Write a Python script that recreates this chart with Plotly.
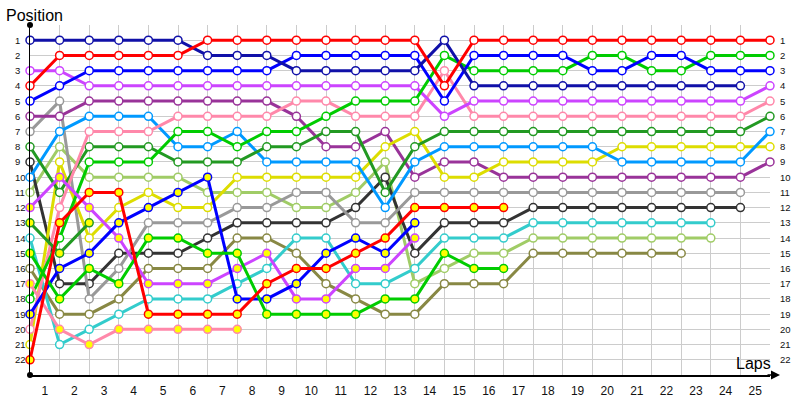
import plotly.graph_objects as go

# ---------------- data ----------------
lap_labels = [str(i) for i in range(1, 26)]
position_labels = [str(i) for i in range(1, 23)]

# positions per lap, starting at lap 0 (grid)
red_a = [4, 2, 2, 2, 2, 2, 1, 1, 1, 1, 1, 1, 1, 1, 4, 1, 1, 1, 1, 1, 1, 1, 1, 1, 1, 1]
navy_a = [1, 1, 1, 1, 1, 1, 2, 2, 2, 3, 3, 3, 3, 3, 1, 4, 4, 4, 4, 4, 4, 4, 4, 4, 4]
blue_a = [5, 4, 3, 3, 3, 3, 3, 3, 3, 2, 2, 2, 2, 2, 5, 2, 2, 2, 2, 3, 3, 2, 2, 3, 3, 3]
green_a = [18, 14, 9, 9, 9, 7, 7, 8, 7, 7, 6, 5, 5, 5, 2, 3, 3, 3, 3, 2, 2, 3, 3, 2, 2, 2]
magenta_a = [3, 3, 4, 4, 4, 4, 4, 4, 4, 4, 4, 4, 4, 4, 6, 5, 5, 5, 5, 5, 5, 5, 5, 5, 5, 4]
pink_a = [20, 12, 7, 7, 7, 6, 6, 6, 6, 5, 5, 6, 6, 6, 3, 6, 6, 6, 6, 6, 6, 6, 6, 6, 6, 5]
dgreen_a = [8, 11, 8, 8, 8, 9, 9, 9, 8, 8, 7, 7, 11, 8, 7, 7, 7, 7, 7, 7, 7, 7, 7, 7, 7, 6]
lblue_a = [10, 7, 6, 6, 6, 8, 8, 7, 9, 9, 9, 9, 12, 9, 8, 8, 8, 8, 8, 8, 9, 9, 9, 9, 9, 7]
yellow_a = [21, 9, 14, 12, 11, 12, 12, 10, 10, 10, 10, 10, 8, 7, 10, 10, 9, 9, 9, 9, 8, 8, 8, 8, 8, 8]
purple_a = [6, 6, 5, 5, 5, 5, 5, 5, 5, 6, 8, 8, 7, 10, 9, 9, 10, 10, 10, 10, 10, 10, 10, 10, 10, 9]
gray_a = [7, 5, 18, 16, 13, 13, 13, 12, 12, 11, 11, 13, 13, 11, 11, 11, 11, 11, 11, 11, 11, 11, 11, 11, 11]
black_a = [9, 17, 17, 15, 15, 15, 14, 13, 13, 13, 13, 12, 10, 15, 13, 13, 13, 12, 12, 12, 12, 12, 12, 12, 12]
teal_a = [14, 21, 20, 19, 18, 18, 18, 17, 16, 14, 14, 17, 17, 16, 14, 14, 14, 13, 13, 13, 13, 13, 13, 13]
lgreen_a = [11, 8, 10, 10, 10, 10, 11, 11, 11, 12, 12, 11, 9, 17, 16, 15, 15, 14, 14, 14, 14, 14, 14, 14]
olive_a = [16, 19, 19, 18, 16, 16, 16, 14, 14, 15, 17, 18, 19, 19, 17, 17, 17, 15, 15, 15, 15, 15, 15]
red_b = [22, 13, 11, 11, 19, 19, 19, 19, 17, 16, 16, 15, 14, 12, 12, 12, 12]
green_b = [15, 18, 16, 17, 14, 14, 15, 15, 19, 19, 19, 19, 18, 18, 15, 16, 16]
blue_b = [19, 16, 15, 13, 12, 11, 10, 18, 18, 17, 15, 14, 15, 13]
magenta_b = [12, 10, 12, 14, 17, 17, 17, 16, 15, 18, 18, 16, 16, 14]
pink_b = [17, 20, 21, 20, 20, 20, 20, 20]
dgreen_b = [13, 15, 13]

# ---------------- styles ----------------
COL = {
    "red": "#FF0000", "navy": "#1010A8", "blue": "#0000FF", "green": "#00CC00",
    "magenta": "#CC44FF", "pink": "#FF88AA", "dgreen": "#229922", "lblue": "#0099FF",
    "yellow": "#DDDD00", "purple": "#993399", "gray": "#999999", "black": "#333333",
    "teal": "#33CCCC", "lgreen": "#A0CC66", "olive": "#888844",
}
series = [
    (olive_a, "olive", "white"), (lgreen_a, "lgreen", "white"), (teal_a, "teal", "white"),
    (black_a, "black", "white"), (gray_a, "gray", "white"), (purple_a, "purple", "white"),
    (yellow_a, "yellow", "white"), (lblue_a, "lblue", "white"), (dgreen_a, "dgreen", "white"),
    (pink_a, "pink", "white"), (magenta_a, "magenta", "white"), (green_a, "green", "white"),
    (blue_a, "blue", "white"), (navy_a, "navy", "white"), (red_a, "red", "white"),
    (dgreen_b, "dgreen", "#FFFF00"), (pink_b, "pink", "#FFFF00"), (magenta_b, "magenta", "#FFFF00"),
    (blue_b, "blue", "#FFFF00"), (green_b, "green", "#FFFF00"), (red_b, "red", "#FFFF00"),
]

fig = go.Figure()
for ys, c, fill in series:
    fig.add_trace(go.Scatter(
        x=list(range(len(ys))), y=ys, mode="lines+markers",
        line=dict(color=COL[c], width=3),
        marker=dict(symbol="circle", size=8, color=fill, line=dict(color=COL[c], width=1.5)),
        showlegend=False, hoverinfo="skip", cliponaxis=False,
    ))

L, R, T, B = 30, 30, 25, 25
PW, PH = 800 - L - R, 400 - T - B
NL = 25

annotations = []
for i, lab in enumerate(position_labels):
    p = i + 1
    annotations.append(dict(x=(13 - L) / PW, xref="paper", y=p, yref="y", text=lab,
                            showarrow=False, xanchor="left", yanchor="middle",
                            font=dict(size=9.5, color="#111")))
    annotations.append(dict(x=(778 - L) / PW, xref="paper", y=p, yref="y", text=lab,
                            showarrow=False, xanchor="left", yanchor="middle",
                            font=dict(size=9.5, color="#111")))
annotations.append(dict(x=(4 - L) / PW, xref="paper", y=1 + (T - 16) / PH, yref="paper",
                        text="Position", showarrow=False, xanchor="left", yanchor="middle",
                        font=dict(size=16, color="#000")))
annotations.append(dict(x=(773 - L) / PW, xref="paper", y=(375 - 363) / PH, yref="paper",
                        text="Laps", showarrow=False, xanchor="right", yanchor="middle",
                        font=dict(size=16, color="#000")))
# x axis arrow
annotations.append(dict(x=(780 - L) / PW, xref="paper", y=0, yref="paper", text="",
                        showarrow=True, ax=-14, ay=0, arrowhead=2, arrowsize=1.2,
                        arrowwidth=1.5, arrowcolor="#000"))

shapes = [
    dict(type="circle", xref="paper", yref="paper", x0=-3 / PW, x1=3 / PW,
         y0=1 + (T - 25 - 3) / PH, y1=1 + (T - 25 + 3) / PH, fillcolor="#000", line=dict(width=0)),
    dict(type="circle", xref="paper", yref="paper", x0=-3 / PW, x1=3 / PW,
         y0=-3 / PH, y1=3 / PH, fillcolor="#000", line=dict(width=0)),
]

fig.update_layout(
    width=800, height=400,
    margin=dict(l=L, r=R, t=T, b=B, pad=0, autoexpand=False),
    paper_bgcolor="white", plot_bgcolor="white",
    font=dict(family="Liberation Sans, Arial, sans-serif"),
    xaxis=dict(range=[0, NL], tickmode="array",
               tickvals=[i + 0.5 for i in range(NL)], ticktext=lap_labels,
               showgrid=False, zeroline=False, ticks="", ticklabelstandoff=4,
               tickfont=dict(size=12, color="#111"),
               showline=True, linecolor="#000", linewidth=1.5, automargin=False,
               minor=dict(tickmode="array", tickvals=list(range(NL + 1)), showgrid=True,
                          gridcolor="#CCCCCC", gridwidth=1, ticks="")),
    yaxis=dict(range=[23, 0], tickmode="array", tickvals=list(range(1, 23)),
               showticklabels=False, showgrid=True, gridcolor="#CCCCCC", gridwidth=1,
               automargin=False,
               zeroline=False, showline=True, linecolor="#000", linewidth=1.5, ticks=""),
    annotations=annotations, shapes=shapes,
)

fig.write_html("out.html", config={"displayModeBar": False, "staticPlot": True},
               post_script="document.body.style.margin='0';document.body.style.overflow='hidden';")
